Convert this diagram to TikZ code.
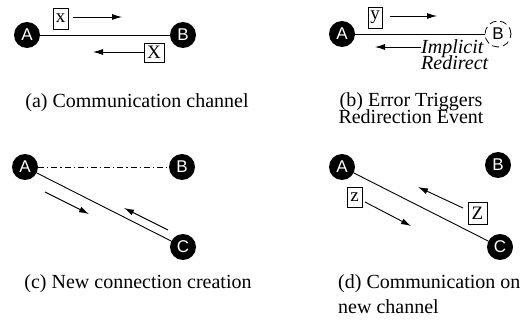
\documentclass[tikz,border=0pt]{standalone}
\usepackage{fontspec}
\setmainfont{Liberation Serif}
\newfontfamily\labfont{Liberation Sans}
\usetikzlibrary{arrows.meta}
\tikzset{
  host/.style={circle, fill=black, text=white, minimum size=26pt, inner sep=0pt,
    font=\labfont\fontsize{17}{17}\selectfont},
  lost/.style={circle, draw=black, dash pattern=on 7pt off 4pt, line width=0.8pt,
    minimum size=26pt, inner sep=0pt, font=\labfont\fontsize{17}{17}\selectfont},
  msg/.style={draw=black, line width=0.7pt, inner sep=0pt,
    font=\fontsize{19}{19}\selectfont},
  link/.style={line width=0.9pt},
  flow/.style={line width=0.9pt, -{Latex[length=10pt,width=6pt]}},
  caption/.style={font=\fontsize{20}{20}\selectfont, inner sep=0pt},
  % tightly stacked lines: keep each line's box to its cap height
  tight/.style={text height=13pt, text depth=0pt},
  note/.style={font=\itshape\fontsize{20}{20}\selectfont, inner sep=0pt,
    anchor=base west, tight},
}
\begin{document}
\begin{tikzpicture}[x=1pt,y=-1pt]
\useasboundingbox (0,0) rectangle (530,320);

% (a) communication channel
\node[host] (a1) at (27,35) {A};
\node[host] (b1) at (183,35) {B};
\draw[link] (a1) -- (b1);
\node[msg, minimum width=15pt, minimum height=21pt] (x1) at (60.5,18.5) {x};
\coordinate (x1e) at (122,17);
\draw[flow] (x1.east |- x1e) ++(5,0) -- (x1e);
\node[msg, minimum width=20pt, minimum height=19pt] (X1) at (154,52.5) {X};
\coordinate (X1e) at (93,52);
\draw[flow] (X1.west |- X1e) -- (X1e);
\node[caption, anchor=base] (capa) at (137,108) {(a) Communication channel};

% (b) error triggers redirection
\node[host] (a2) at (342,34) {A};
\node[lost] (b2) at (498,34) {B};
\draw[link] (a2) -- (b2);
\node[msg, minimum width=14pt, minimum height=21pt] (y2) at (375,17.5) {y};
\coordinate (y2e) at (437,16);
\draw[flow] (y2.east |- y2e) ++(8,0) -- (y2e);
\node[note] (imp1) at (421,53.5) {Implicit};
\node[note] (imp2) at (421,69.5) {Redirect};
\coordinate (r2e) at (375,47);
\draw[flow] (imp1.west |- r2e) -- (r2e);
\node[caption, tight, anchor=base] (capb1) at (411,107) {(b) Error Triggers};
\node[caption, tight, anchor=base] (capb2) at (411,124) {Redirection Event};

% (c) new connection creation
\node[host] (a3) at (25,167) {A};
\node[host] (b3) at (182,167) {B};
\node[host] (c3) at (183,247) {C};
\draw[link, dash pattern=on 6pt off 3pt on 1.2pt off 3pt] (a3) -- (b3);
\draw[link] (a3) -- (c3);
\coordinate (s31) at (45,192);
\coordinate (e31) at (89,214);
\coordinate (s32) at (168,230);
\coordinate (e32) at (124,208);
\draw[flow] (s31) -- (e31);
\draw[flow] (s32) -- (e32);
\node[caption, anchor=base] (capc) at (138,289) {(c) New connection creation};

% (d) communication on new channel
\node[host] (a4) at (342,167) {A};
\node[host] (b4) at (498,165) {B};
\node[host] (c4) at (500,247) {C};
\draw[link] (a4) -- (c4);
\node[msg, minimum width=15pt, minimum height=20pt] (z4) at (354.5,197) {z};
\coordinate (s41) at (365,202);
\coordinate (e41) at (411,226);
\draw[flow] (s41) -- (e41);
\node[msg, minimum width=19pt, minimum height=22pt] (Z4) at (477.5,213) {Z};
\coordinate (s42) at (463,208);
\coordinate (e42) at (418,187);
\draw[flow] (s42) -- (e42);
\node[caption, anchor=base west] (capd1) at (338,289) {(d) Communication on};
\node[caption, anchor=base west] (capd2) at (338,313) {new channel};
\end{tikzpicture}
\end{document}
